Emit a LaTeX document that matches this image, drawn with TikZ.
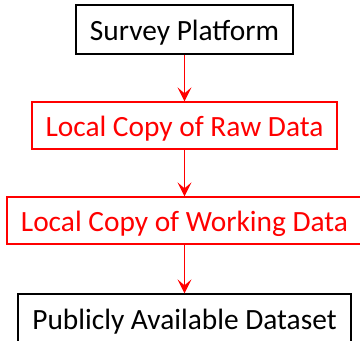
\documentclass[tikz,border=0pt]{standalone}
\usepackage{fontspec}
\setmainfont{Carlito}
\usetikzlibrary{arrows.meta}
\definecolor{pured}{RGB}{255,0,0}
\tikzset{
  flowbox/.style={draw, line width=1.3bp, inner sep=0pt, text height=22bp, text depth=0pt,
    font=\fontsize{29.5}{35}\selectfont},
  blackbox/.style={flowbox, draw=black, text=black},
  redbox/.style={flowbox, draw=pured, text=pured},
  flowarrow/.style={draw=pured, line width=1.3bp, -{Stealth[length=14bp,width=14bp,inset=6bp]}}
}
\begin{document}
\begin{tikzpicture}[x=1bp,y=-1bp]
\clip (0,0) rectangle (360,341);
\fill[white] (0,0) rectangle (360,341);
\node[blackbox, minimum width=217bp, minimum height=49bp] (sp) at (184.5,29.5) {Survey Platform};
\node[redbox, minimum width=305bp, minimum height=47bp] (raw) at (184.5,125.5) {Local Copy of Raw Data};
\node[redbox, minimum width=355bp, minimum height=47bp] (work) at (184.5,220.5) {Local Copy of Working Data};
\node[blackbox, minimum width=333bp, minimum height=49bp] (pub) at (184.5,318.5) {Publicly Available Dataset};
\draw[flowarrow] (sp) -- (raw);
\draw[flowarrow] (raw) -- (work);
\draw[flowarrow] (work) -- (pub);
\end{tikzpicture}
\end{document}
